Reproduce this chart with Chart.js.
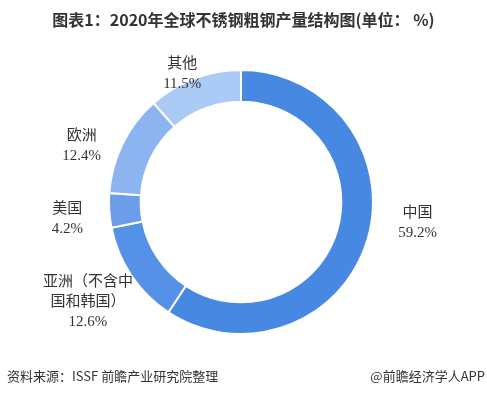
<!DOCTYPE html>
<html>
<head>
<meta charset="utf-8">
<script src="https://cdn.jsdelivr.net/npm/chart.js@4/dist/chart.umd.min.js"></script>
<style>
  html, body { margin: 0; padding: 0; background: #fff; }
  #wrap { position: relative; width: 487px; height: 396px; }
  #title {
    position: absolute; left: 0; top: 7px; width: 487px; text-align: center;
    font: bold 16px "Noto Sans CJK SC", sans-serif; color: #333;
  }
  .foot { position: absolute; top: 366px; font: 13px "Noto Sans CJK SC", sans-serif; color: #333; }
</style>
</head>
<body>
<div id="wrap">
  <canvas id="pieChart" width="487" height="396"></canvas>
  <div id="title">图表1：2020年全球不锈钢粗钢产量结构图(单位： %)</div>
  <div class="foot" style="left:7px">资料来源：ISSF 前瞻产业研究院整理</div>
  <div class="foot" style="right:2px">@前瞻经济学人APP</div>
</div>
<script>
// 2020 global stainless crude steel output share (%)
const regions = ['中国', '亚洲（不含中国和韩国）', '美国', '欧洲', '其他'];
const labelLines = [['中国'], ['亚洲（不含中', '国和韩国）'], ['美国'], ['欧洲'], ['其他']];
const shares = [59.2, 12.6, 4.2, 12.4, 11.5];
const sliceColors = ['#4788e2', '#5591e6', '#6b9deb', '#8bb4f0', '#abcaf5'];

// nudge each label block from its anchor point just outside the ring
const labelNudge = [[31, -23], [-27, 15], [-22, 7], [-23, 11], [-5, 14]];

const outerLabels = {
  id: 'outerLabels',
  afterDatasetsDraw(chart) {
    const ctx = chart.ctx;
    const arcs = chart.getDatasetMeta(0).data;
    ctx.save();
    ctx.font = '15px "Liberation Serif", "Noto Sans CJK SC", serif';
    ctx.fillStyle = '#333';
    ctx.textAlign = 'center';
    ctx.textBaseline = 'middle';
    arcs.forEach((arc, i) => {
      const mid = (arc.startAngle + arc.endAngle) / 2;
      const r = arc.outerRadius + 20;
      const x = arc.x + Math.cos(mid) * r + labelNudge[i][0];
      const y = arc.y + Math.sin(mid) * r + labelNudge[i][1];
      const lines = labelLines[i].concat([shares[i].toFixed(1) + '%']);
      const top = y - (lines.length - 1) * 10;
      lines.forEach((t, k) => ctx.fillText(t, x, top + k * 20));
    });
    ctx.restore();
  }
};

new Chart(document.getElementById('pieChart').getContext('2d'), {
  type: 'doughnut',
  data: {
    labels: regions,
    datasets: [{
      data: shares,
      backgroundColor: sliceColors,
      borderColor: '#fff',
      borderWidth: 2
    }]
  },
  options: {
    responsive: false,
    animation: false,
    cutout: '76%',
    layout: { padding: { top: 69, bottom: 61, left: 108, right: 113 } },
    plugins: {
      legend: { display: false },
      tooltip: { enabled: false }
    }
  },
  plugins: [outerLabels]
});
</script>
</body>
</html>
